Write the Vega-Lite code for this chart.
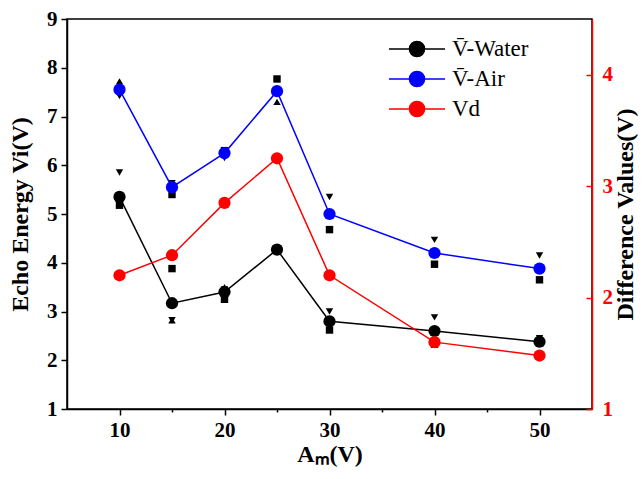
{
  "$schema": "https://vega.github.io/schema/vega-lite/v6.json",
  "width": 525,
  "height": 390,
  "autosize": {"type": "none"},
  "padding": {"left": 67, "top": 19, "right": 52, "bottom": 70},
  "background": "white",
  "config": {
    "view": {"stroke": "black", "strokeWidth": 1.5},
    "axis": {
      "labelFont": "Liberation Serif",
      "titleFont": "Liberation Serif",
      "labelFontWeight": "bold",
      "titleFontWeight": "bold",
      "labelFontSize": 21,
      "titleFontSize": 24,
      "grid": false,
      "domainColor": "black",
      "tickColor": "black",
      "labelColor": "black",
      "titleColor": "black",
      "domainWidth": 1.5,
      "tickWidth": 1.5
    }
  },
  "datasets": {
    "means": [
      {"A": 10, "series": "V̄-Water", "v": 5.35},
      {"A": 15, "series": "V̄-Water", "v": 3.17},
      {"A": 20, "series": "V̄-Water", "v": 3.40},
      {"A": 25, "series": "V̄-Water", "v": 4.27},
      {"A": 30, "series": "V̄-Water", "v": 2.80},
      {"A": 40, "series": "V̄-Water", "v": 2.60},
      {"A": 50, "series": "V̄-Water", "v": 2.38},
      {"A": 10, "series": "V̄-Air", "v": 7.55},
      {"A": 15, "series": "V̄-Air", "v": 5.55},
      {"A": 20, "series": "V̄-Air", "v": 6.25},
      {"A": 25, "series": "V̄-Air", "v": 7.52},
      {"A": 30, "series": "V̄-Air", "v": 5.00},
      {"A": 40, "series": "V̄-Air", "v": 4.20},
      {"A": 50, "series": "V̄-Air", "v": 3.88}
    ],
    "vd": [
      {"A": 10, "series": "Vd", "v": 2.20},
      {"A": 15, "series": "Vd", "v": 2.38},
      {"A": 20, "series": "Vd", "v": 2.85},
      {"A": 25, "series": "Vd", "v": 3.25},
      {"A": 30, "series": "Vd", "v": 2.20},
      {"A": 40, "series": "Vd", "v": 1.60},
      {"A": 50, "series": "Vd", "v": 1.48}
    ],
    "reps": [
      {"A": 10, "medium": "Water", "shape": "square", "v": 5.18},
      {"A": 10, "medium": "Water", "shape": "up", "v": 5.28},
      {"A": 10, "medium": "Water", "shape": "down", "v": 5.85},
      {"A": 10, "medium": "Air", "shape": "square", "v": 7.55},
      {"A": 10, "medium": "Air", "shape": "up", "v": 7.72},
      {"A": 10, "medium": "Air", "shape": "down", "v": 7.42},
      {"A": 15, "medium": "Water", "shape": "square", "v": 3.88},
      {"A": 15, "medium": "Water", "shape": "up", "v": 2.82},
      {"A": 15, "medium": "Water", "shape": "down", "v": 2.82},
      {"A": 15, "medium": "Air", "shape": "square", "v": 5.40},
      {"A": 15, "medium": "Air", "shape": "up", "v": 5.63},
      {"A": 15, "medium": "Air", "shape": "down", "v": 5.63},
      {"A": 20, "medium": "Water", "shape": "square", "v": 3.25},
      {"A": 20, "medium": "Water", "shape": "up", "v": 3.50},
      {"A": 20, "medium": "Water", "shape": "down", "v": 3.45},
      {"A": 20, "medium": "Air", "shape": "square", "v": 6.30},
      {"A": 20, "medium": "Air", "shape": "up", "v": 6.30},
      {"A": 20, "medium": "Air", "shape": "down", "v": 6.15},
      {"A": 25, "medium": "Water", "shape": "square", "v": 4.27},
      {"A": 25, "medium": "Water", "shape": "up", "v": 4.25},
      {"A": 25, "medium": "Water", "shape": "down", "v": 4.30},
      {"A": 25, "medium": "Air", "shape": "square", "v": 7.77},
      {"A": 25, "medium": "Air", "shape": "up", "v": 7.30},
      {"A": 25, "medium": "Air", "shape": "down", "v": 7.50},
      {"A": 30, "medium": "Water", "shape": "square", "v": 2.62},
      {"A": 30, "medium": "Water", "shape": "up", "v": 2.82},
      {"A": 30, "medium": "Water", "shape": "down", "v": 3.00},
      {"A": 30, "medium": "Air", "shape": "square", "v": 4.68},
      {"A": 30, "medium": "Air", "shape": "up", "v": 4.98},
      {"A": 30, "medium": "Air", "shape": "down", "v": 5.35},
      {"A": 40, "medium": "Water", "shape": "square", "v": 2.33},
      {"A": 40, "medium": "Water", "shape": "up", "v": 2.62},
      {"A": 40, "medium": "Water", "shape": "down", "v": 2.88},
      {"A": 40, "medium": "Air", "shape": "square", "v": 3.97},
      {"A": 40, "medium": "Air", "shape": "up", "v": 4.18},
      {"A": 40, "medium": "Air", "shape": "down", "v": 4.47},
      {"A": 50, "medium": "Water", "shape": "square", "v": 2.35},
      {"A": 50, "medium": "Water", "shape": "up", "v": 2.40},
      {"A": 50, "medium": "Water", "shape": "down", "v": 2.45},
      {"A": 50, "medium": "Air", "shape": "square", "v": 3.65},
      {"A": 50, "medium": "Air", "shape": "up", "v": 3.88},
      {"A": 50, "medium": "Air", "shape": "down", "v": 4.15}
    ]
  },
  "layer": [
    {
      "encoding": {
        "x": {
          "field": "A",
          "type": "quantitative",
          "scale": {"domain": [5, 55], "nice": false, "zero": false},
          "axis": {
            "title": "Aₘ(V)",
            "values": [10, 15, 20, 25, 30, 35, 40, 45, 50],
            "format": "d",
            "labelExpr": "datum.value % 10 === 0 ? datum.label : ''",
            "tickSize": {"condition": {"test": "datum.value % 10 === 0", "value": 6}, "value": 3},
            "labelPadding": 4,
            "titlePadding": 2
          }
        },
        "y": {
          "field": "v",
          "type": "quantitative",
          "scale": {"domain": [1, 9], "nice": false, "zero": false},
          "axis": {
            "orient": "left",
            "title": "Echo Energy Vi(V)",
            "values": [1, 1.5, 2, 2.5, 3, 3.5, 4, 4.5, 5, 5.5, 6, 6.5, 7, 7.5, 8, 8.5, 9],
            "format": "d",
            "labelExpr": "datum.value % 1 === 0 ? datum.label : ''",
            "tickSize": {"condition": {"test": "datum.value % 1 === 0", "value": 6}, "value": 3},
            "labelPadding": 4,
            "titlePadding": 14
          }
        }
      },
      "layer": [
        {
          "data": {"name": "reps"},
          "mark": {"type": "point", "filled": true, "size": 55, "opacity": 1, "color": "black"},
          "encoding": {
            "shape": {
              "field": "shape",
              "type": "nominal",
              "scale": {"domain": ["square", "up", "down"], "range": ["square", "triangle-up", "triangle-down"]},
              "legend": null
            }
          }
        },
        {
          "data": {"name": "means"},
          "mark": {"type": "line", "strokeWidth": 1.5},
          "encoding": {
            "color": {
              "field": "series",
              "type": "nominal",
              "scale": {"domain": ["V̄-Water", "V̄-Air", "Vd"], "range": ["black", "blue", "red"]},
              "legend": {
                "title": null,
                "orient": "none",
                "legendX": 321,
                "legendY": 15,
                "padding": 0,
                "symbolType": "M-1,0H-0.27M0.27,0H1M0.27,0A0.27,0.27,0,1,1,-0.27,0A0.27,0.27,0,1,1,0.27,0Z",
                "symbolSize": 3136,
                "symbolStrokeWidth": 1.5,
                "clipHeight": 30,
                "rowPadding": 0,
                "labelFont": "Liberation Serif",
                "labelFontSize": 23,
                "labelFontWeight": "normal",
                "labelColor": "black",
                "labelOffset": 6,
                "encode": {
                  "symbols": {
                    "update": {
                      "fill": {"scale": "color", "field": "value"},
                      "stroke": {"scale": "color", "field": "value"},
                      "opacity": {"value": 1}
                    }
                  }
                }
              }
            }
          }
        },
        {
          "data": {"name": "means"},
          "mark": {"type": "circle", "size": 150, "opacity": 1},
          "encoding": {
            "color": {"field": "series", "type": "nominal"}
          }
        }
      ]
    },
    {
      "data": {"name": "vd"},
      "encoding": {
        "x": {"field": "A", "type": "quantitative"},
        "y": {
          "field": "v",
          "type": "quantitative",
          "scale": {"domain": [1, 4.5], "nice": false, "zero": false},
          "axis": {
            "orient": "right",
            "title": "Difference Values(V)",
            "titleAngle": 270,
            "values": [1, 1.5, 2, 2.5, 3, 3.5, 4, 4.5],
            "format": "d",
            "labelExpr": "datum.value % 1 === 0 && datum.value < 4.5 ? datum.label : ''",
            "tickSize": {"condition": {"test": "datum.value % 1 === 0", "value": -6}, "value": -4},
            "labelPadding": 16,
            "titlePadding": 25,
            "domainColor": "red",
            "tickColor": "red",
            "labelColor": "red"
          }
        },
        "color": {"field": "series", "type": "nominal"}
      },
      "layer": [
        {"mark": {"type": "line", "strokeWidth": 1.5}},
        {"mark": {"type": "circle", "size": 150, "opacity": 1}}
      ]
    }
  ],
  "resolve": {"scale": {"y": "independent"}}
}
